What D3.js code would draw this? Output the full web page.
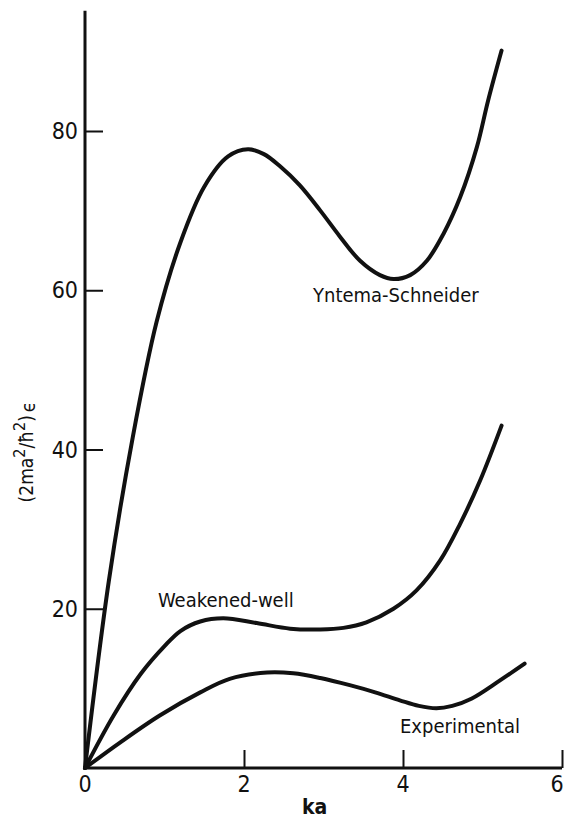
<!DOCTYPE html>
<html>
<head>
<meta charset="utf-8">
<script src="https://cdn.jsdelivr.net/npm/d3@7"></script>
<style>
  body { margin: 0; background: #fff; }
  svg text { font-family: "Liberation Sans Narrow", "DejaVu Sans Condensed", sans-serif; font-stretch: condensed; fill: #111; }
</style>
</head>
<body>
<div id="chart"></div>
<script>
// ka values and energies
const yntema_ka = [0, 0.3, 0.6, 0.9, 1.2, 1.5, 1.8, 2.05, 2.25, 2.45, 2.7, 2.96, 3.21, 3.46, 3.71, 3.88, 4.09, 4.3, 4.51, 4.72, 4.93, 5.07, 5.24];
const yntema_e = [0, 23.5, 41.5, 56.0, 66.0, 73.0, 76.8, 77.7, 77.1, 75.6, 73.2, 70.0, 66.7, 63.7, 61.9, 61.4, 61.9, 63.7, 67.1, 71.7, 78.0, 83.8, 90.1];

const weak_ka = [0, 0.36, 0.7, 1.0, 1.2, 1.45, 1.74, 2.16, 2.58, 2.96, 3.25, 3.54, 3.88, 4.17, 4.47, 4.72, 4.97, 5.24];
const weak_e = [0, 6.6, 11.8, 15.3, 17.2, 18.4, 18.8, 18.2, 17.5, 17.4, 17.6, 18.3, 20.0, 22.3, 26.1, 30.7, 36.1, 43.0];

const exp_ka = [0, 0.44, 0.94, 1.45, 1.82, 2.29, 2.62, 2.96, 3.33, 3.65, 3.96, 4.2, 4.42, 4.62, 4.86, 5.22, 5.53];
const exp_e = [0, 3.2, 6.6, 9.5, 11.2, 12.0, 11.9, 11.3, 10.4, 9.5, 8.5, 7.8, 7.5, 7.8, 8.7, 11.0, 13.1];

const x_ticks = [0, 2, 4, 6];
const y_ticks = [0, 20, 40, 60, 80];

const W = 566, H = 820;
const svg = d3.select("#chart").append("svg").attr("width", W).attr("height", H);

const x = d3.scaleLinear().domain([0, 6]).range([85, 562]);
const y = d3.scaleLinear().domain([0, 80]).range([768, 131]);

// axis lines
svg.append("line")
  .attr("x1", x(0)).attr("x2", x(0))
  .attr("y1", y(0)).attr("y2", y(95.1))
  .attr("stroke", "#111").attr("stroke-width", 3);
svg.append("line")
  .attr("x1", x(0) - 1.5).attr("x2", x(6))
  .attr("y1", y(0)).attr("y2", y(0))
  .attr("stroke", "#111").attr("stroke-width", 3);

// ticks (inward)
const xAxis = svg.append("g").attr("transform", `translate(0, ${y(0)})`)
  .call(d3.axisTop(x).tickValues(x_ticks).tickSize(18).tickFormat(""));
xAxis.select(".domain").remove();
xAxis.selectAll(".tick line").attr("stroke", "#111").attr("stroke-width", 2)
  .filter(d => d === 0).remove();

const yAxis = svg.append("g").attr("transform", `translate(${x(0)}, 0)`)
  .call(d3.axisRight(y).tickValues(y_ticks).tickSize(18).tickFormat(""));
yAxis.select(".domain").remove();
yAxis.selectAll(".tick line").attr("stroke", "#111").attr("stroke-width", 2)
  .filter(d => d === 0).remove();

// tick labels
svg.selectAll(".xl").data(x_ticks).join("text")
  .attr("x", d => Math.min(x(d), 557)).attr("y", 792)
  .attr("text-anchor", "middle").attr("font-size", 23)
  .text(d => d);
svg.selectAll(".yl").data(y_ticks.filter(d => d > 0)).join("text")
  .attr("x", 78).attr("y", d => y(d) + 8)
  .attr("text-anchor", "end").attr("font-size", 23)
  .text(d => d);

// axis titles
svg.append("text").attr("x", 302).attr("y", 814).attr("font-size", 21)
  .attr("font-weight", "bold").text("ka");

const yl = svg.append("text")
  .attr("transform", "translate(33, 452) rotate(-90)")
  .attr("text-anchor", "middle").attr("font-size", 19);
yl.append("tspan").text("(2ma");
yl.append("tspan").attr("dy", -8).attr("font-size", 16).text("2");
yl.append("tspan").attr("dy", 8).text("/ħ");
yl.append("tspan").attr("dy", -8).attr("font-size", 16).text("2");
yl.append("tspan").attr("dy", 8).text(")");
yl.append("tspan").attr("dx", 3).attr("dy", 2).text("ϵ");

// curves
const line = d3.line()
  .x(d => x(d[0]))
  .y(d => y(d[1]))
  .curve(d3.curveCatmullRom.alpha(0.5));

const series = [
  d3.zip(yntema_ka, yntema_e),
  d3.zip(weak_ka, weak_e),
  d3.zip(exp_ka, exp_e)
];

svg.selectAll(".curve").data(series).join("path")
  .attr("class", "curve")
  .attr("fill", "none")
  .attr("stroke", "#111")
  .attr("stroke-width", 4)
  .attr("stroke-linecap", "round")
  .attr("d", d => line(d));

// curve labels
svg.append("text").attr("x", 313).attr("y", 302).attr("font-size", 20).text("Yntema-Schneider");
svg.append("text").attr("x", 158).attr("y", 607).attr("font-size", 20).text("Weakened-well");
svg.append("text").attr("x", 400).attr("y", 733).attr("font-size", 20).text("Experimental");
</script>
</body>
</html>
